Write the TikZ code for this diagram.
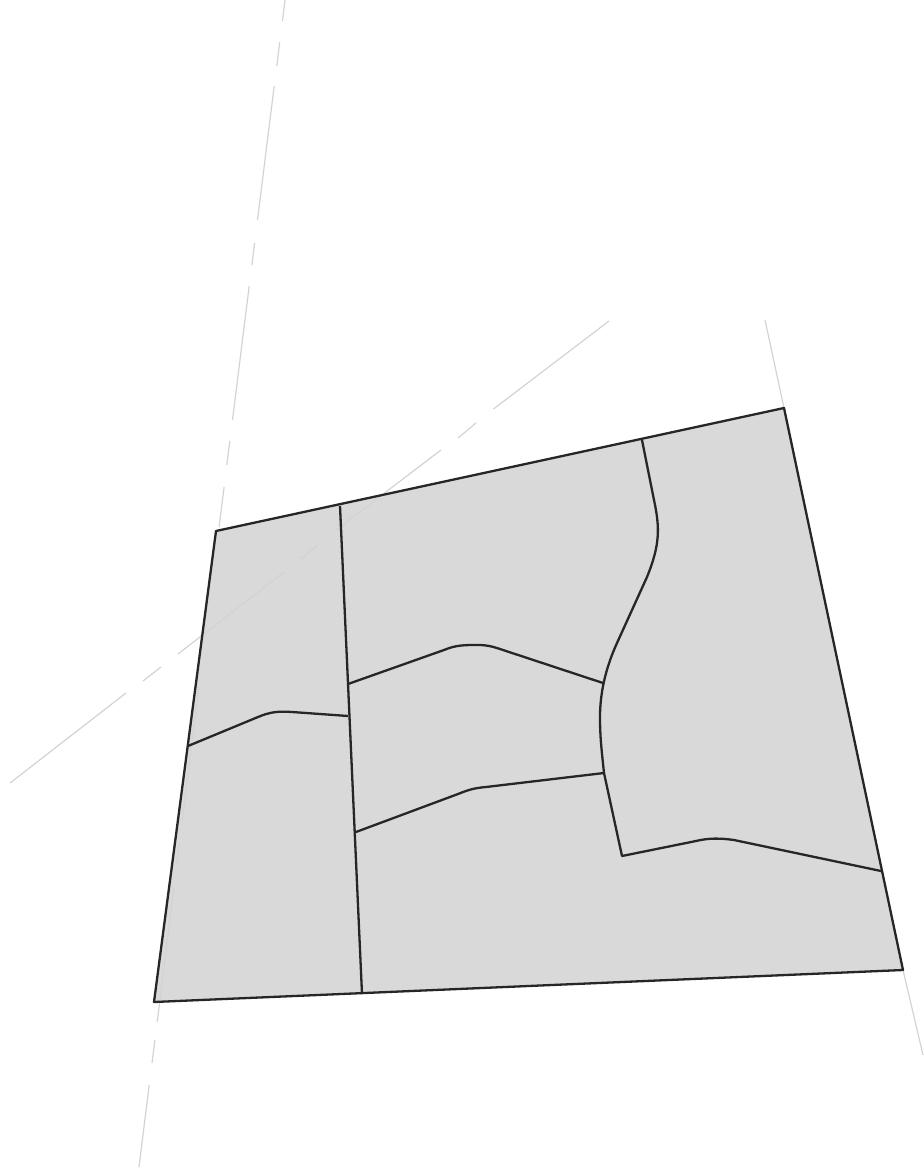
\documentclass[tikz,border=0pt]{standalone}
\usepackage{tikz}

\definecolor{plotfill}{HTML}{D9D9D9}
\definecolor{guidegray}{HTML}{D3D3D3}
\definecolor{plotline}{HTML}{262626}

\tikzset{
  guide/.style={draw=guidegray,line width=1.2pt},
  plotedge/.style={draw=plotline,line width=2.3pt,line join=round}
}

\begin{document}
\begin{tikzpicture}[x=1pt,y=-1pt]

\useasboundingbox (0,0) rectangle (923,1169);

%%%%%%%%%%%%%%%%%%%%%%%%%%%%%%%%%%%%%%%%%%%%%%%%%%
% Parcel
%%%%%%%%%%%%%%%%%%%%%%%%%%%%%%%%%%%%%%%%%%%%%%%%%%

\fill[plotfill] (216,531)--(784,408)--(903,970)--(154,1002)--cycle;

%%%%%%%%%%%%%%%%%%%%%%%%%%%%%%%%%%%%%%%%%%%%%%%%%%
% Guide lines
%%%%%%%%%%%%%%%%%%%%%%%%%%%%%%%%%%%%%%%%%%%%%%%%%%

% Left
\draw[guide]
(285,0)--(282.4,21) (279.7,42)--(276.8,66)
(274.2,86)--(257.5,220) (254.6,243)--(251.9,265)
(249.2,286)--(232.5,420) (229.8,441)--(226.8,465)
(224.1,487)--(219.1,527)
(199,687)--(182.2,821) (179.6,842)--(176.7,865)
(173.9,888)--(157.2,1022) (154.9,1040)--(152,1063)
(149.2,1085)--(139,1167);

% Diagonal
\draw[guide]
(609,321)--(493.5,409) (476,423)--(458,438)
(441,450)--(336,530) (318,545)--(300.5,559)
(284,572)--(178,654) (161,667)--(143,681)
(126,693)--(10,783);

% Right
\draw[guide] (765,320)--(784,408);
\draw[guide] (903,970)--(923,1055);

%%%%%%%%%%%%%%%%%%%%%%%%%%%%%%%%%%%%%%%%%%%%%%%%%%
% Edges
%%%%%%%%%%%%%%%%%%%%%%%%%%%%%%%%%%%%%%%%%%%%%%%%%%

% Outline
\draw[plotedge] (216,531)--(784,408)--(903,970)--(154,1002)--cycle;

% Long divider
\draw[plotedge] (340,506)--(362,994);

% Left strip
\draw[plotedge]
(188,746)--(258,717)
.. controls (270,712) and (278,711) .. (292,712)
--(348,716);

% Middle, upper
\draw[plotedge]
(348,684)--(444,650)
.. controls (456,645) and (464,645) .. (478,645)
.. controls (488,645) and (494,647) .. (503,650)
--(603,683);

% Middle, lower
\draw[plotedge]
(356,832)--(458,794)
.. controls (468,790) and (474,788) .. (486,787)
--(604,773);

% Right curve
\draw[plotedge]
(642,440)--(654,500)
.. controls (660,528) and (660,545) .. (647,577)
--(617,643)
.. controls (607,665) and (600,690) .. (600,717)
.. controls (600,735) and (601,745) .. (604,773)
--(622,856)--(696,841)
.. controls (708,838) and (720,838) .. (734,840)
--(881,871);

\end{tikzpicture}
\end{document}
